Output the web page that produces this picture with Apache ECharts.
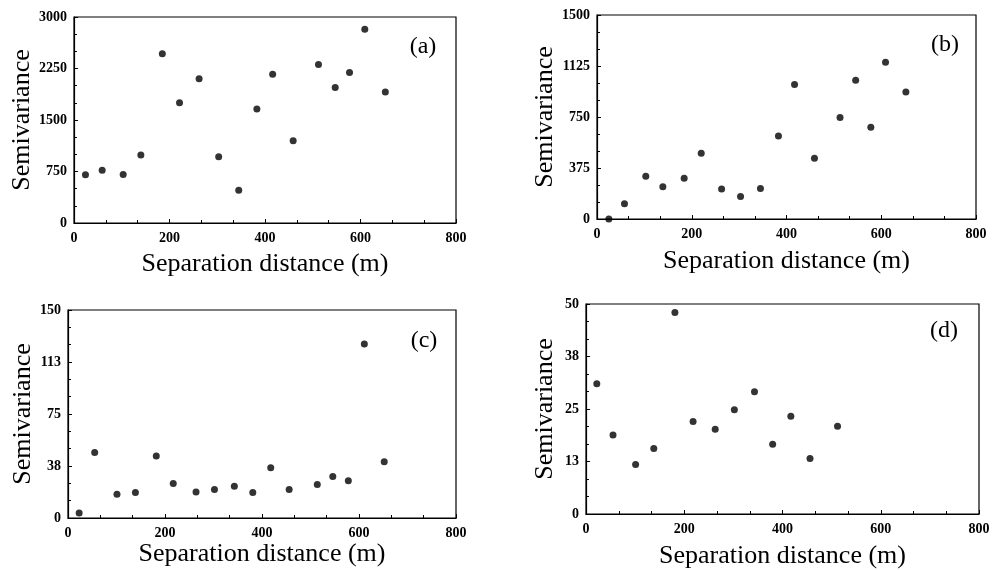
<!DOCTYPE html>
<html>
<head>
<meta charset="utf-8">
<script src="https://cdn.jsdelivr.net/npm/echarts@6/dist/echarts.min.js"></script>
<style>html,body{margin:0;padding:0;background:#fff}#c{width:993px;height:570px}</style>
</head>
<body>
<div id="c"></div>
<script>
// ---- data ----
const xTickLabels = ['0', '200', '400', '600', '800'];
const panelNames = ['(a)', '(b)', '(c)', '(d)'];

const aX = [24, 59, 103, 140, 185, 221, 262, 303, 345, 383, 416, 459, 512, 547, 577, 609, 652];
const aY = [701, 769, 706, 989, 2464, 1753, 2099, 964, 477, 1661, 2167, 1198, 2308, 1972, 2192, 2820, 1909];
const aYTicks = ['0', '750', '1500', '2250', '3000'];

const bX = [25, 58, 103, 139, 184, 220, 263, 303, 345, 383, 417, 459, 513, 546, 578, 609, 652];
const bY = [0, 112, 315, 237, 300, 484, 220, 166, 225, 611, 989, 447, 747, 1021, 674, 1153, 933];
const bYTicks = ['0', '375', '750', '1125', '1500'];

const cX = [23, 55, 101, 139, 182, 217, 264, 302, 343, 381, 418, 456, 514, 546, 578, 611, 652];
const cY = [3.6, 47.3, 17.1, 18.3, 44.7, 24.8, 18.8, 20.5, 22.9, 18.3, 36.2, 20.5, 24.1, 29.9, 26.8, 125.4, 40.5];
const cYTicks = ['0', '38', '75', '113', '150'];

const dX = [22, 55, 101, 138, 181, 218, 263, 302, 343, 380, 417, 456, 512];
const dY = [31.0, 18.8, 11.8, 15.6, 48.0, 22.0, 20.2, 24.8, 29.1, 16.6, 23.3, 13.2, 20.9];
const dYTicks = ['0', '13', '25', '38', '50'];

// ---- layout ----
const panels = [
  {x: aX, y: aY, ticks: aYTicks, max: 3000, grid: {left: 74, top: 17, width: 382, height: 206}, xGap: 28, yGap: 38, label: [423, 47]},
  {x: bX, y: bY, ticks: bYTicks, max: 1500, grid: {left: 597, top: 15, width: 379, height: 204}, xGap: 29, yGap: 38, label: [945, 45]},
  {x: cX, y: cY, ticks: cYTicks, max: 150, grid: {left: 68, top: 310, width: 388, height: 208}, xGap: 23, yGap: 32, label: [424, 341]},
  {x: dX, y: dY, ticks: dYTicks, max: 50, grid: {left: 586, top: 304, width: 393, height: 210}, xGap: 29, yGap: 28, label: [944, 331]}
];

const FONT = 'Liberation Serif';
const grids = [], xAxes = [], yAxes = [], series = [], graphics = [];

panels.forEach((p, i) => {
  grids.push(Object.assign({show: true, borderColor: '#000', borderWidth: 1.2, backgroundColor: 'transparent'}, p.grid));
  const common = {
    gridIndex: i,
    type: 'value',
    min: 0,
    axisLine: {show: true, onZero: false, lineStyle: {color: '#000', width: 1.2}},
    axisTick: {show: true, inside: true, length: 4, lineStyle: {color: '#000'}},
    minorTick: {show: true, splitNumber: 3, length: 3, lineStyle: {color: '#000'}},
    splitLine: {show: false},
    minorSplitLine: {show: false},
    nameTextStyle: {fontFamily: FONT, fontSize: 26, color: '#000'}
  };
  const tickFont = {fontFamily: FONT, fontSize: 14, fontWeight: 'bold', color: '#000'};
  xAxes.push(Object.assign({}, common, {
    max: 800, interval: 200,
    name: 'Separation distance (m)', nameLocation: 'middle', nameGap: p.xGap,
    axisLabel: Object.assign({margin: 8, formatter: v => xTickLabels[Math.round(v / 200)]}, tickFont)
  }));
  const step = p.max / 4;
  yAxes.push(Object.assign({}, common, {
    max: p.max, interval: step,
    name: 'Semivariance', nameLocation: 'middle', nameGap: p.yGap,
    axisLabel: Object.assign({margin: 7, formatter: v => p.ticks[Math.round(v / step)]}, tickFont)
  }));
  series.push({
    type: 'scatter', xAxisIndex: i, yAxisIndex: i,
    symbol: 'circle', symbolSize: 7,
    itemStyle: {color: '#000'},
    data: p.x.map((xv, k) => [xv, p.y[k]])
  });
  graphics.push({
    type: 'text', x: p.label[0], y: p.label[1],
    style: {text: panelNames[i], font: '24px "' + FONT + '"', fill: '#000', align: 'center', verticalAlign: 'middle'}
  });
});

const chart = echarts.init(document.getElementById('c'), null, {renderer: 'canvas'});
chart.setOption({
  animation: false,
  backgroundColor: '#fff',
  grid: grids,
  xAxis: xAxes,
  yAxis: yAxes,
  series: series,
  graphic: graphics
});
</script>
</body>
</html>
